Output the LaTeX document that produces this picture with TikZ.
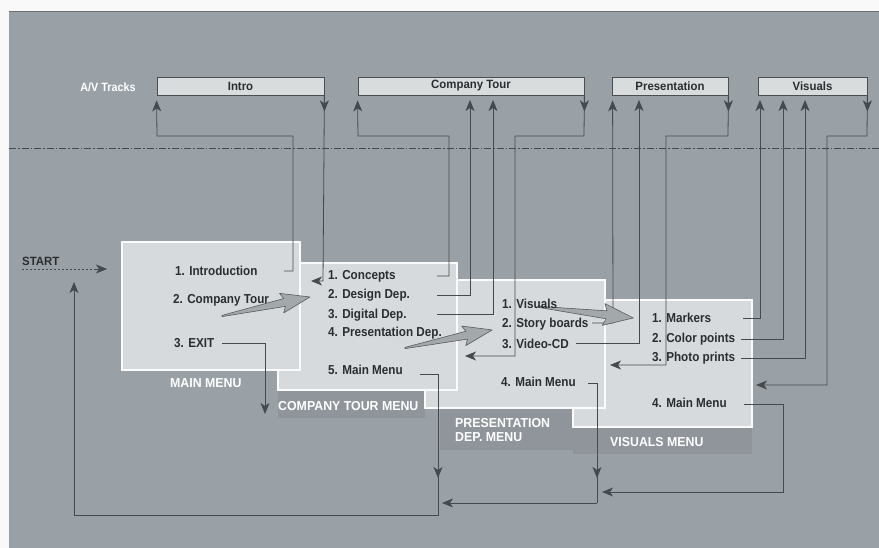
\documentclass[tikz,border=0pt]{standalone}
\usepackage{fontspec}
\setmainfont{Liberation Sans}
\newfontfamily\cond{Liberation Sans}[FakeStretch=0.9]
\newfontfamily\condw{Liberation Sans}[FakeStretch=0.95]
\usetikzlibrary{arrows.meta,calc}
\definecolor{bgc}{HTML}{9AA1A6}
\definecolor{panel}{HTML}{D6DADC}
\definecolor{barc}{HTML}{D9DCDD}
\definecolor{ink}{HTML}{2B2E31}
\definecolor{wirec}{HTML}{454A4E}
\definecolor{band}{HTML}{8F959A}
\definecolor{bigc}{HTML}{A3A8AB}
\begin{document}
\begin{tikzpicture}[x=1pt,y=-1pt,
 wire/.style={draw=wirec, line width=0.8pt},
 tip/.style={wire,-{Stealth[length=11pt,width=9pt,inset=3pt]}},
 track/.style={draw=ink!85, fill=barc, line width=0.8pt, minimum height=18pt, inner sep=0pt, font=\condw\bfseries\fontsize{12}{12}\selectfont, text=ink},
 item/.style={anchor=west, inner sep=0pt, font=\cond\bfseries\fontsize{13}{13}\selectfont, text=ink},
 lab/.style={anchor=west, inner sep=0pt, font=\condw\bfseries\fontsize{13}{14}\selectfont, text=white, align=left},
 menubox/.style={draw=white!90!panel, line width=1.6pt, fill=panel},
 bigarr/.style={fill=bigc, draw=wirec!90, line width=0.6pt, line join=round}
]
\useasboundingbox (0,0) rectangle (879,548);
\fill[white!94!bgc] (0,0) rectangle (879,548);
\fill[bgc] (9,12) rectangle (879,548);
\draw[wirec!80, line width=1pt] (9,12) -- (879,12);

% tracks
\node[text=white, font=\cond\bfseries\fontsize{12}{12}\selectfont] (av) at (108,87) {A/V Tracks};
\node[track, minimum width=167pt] (intro) at (240.5,86) {Intro};
\node[track, minimum width=226pt] (ctour) at (471,86) {Company Tour};
\node[track, minimum width=116pt] (pres) at (670,86) {Presentation};
\node[track, minimum width=109pt] (vis) at (812.5,86) {Visuals};

\draw[wire, dash pattern=on 7pt off 2pt on 1.5pt off 2pt] (9,148) -- (879,148);

% label bands
\fill[band] (278,390) rectangle (425,418);
\fill[band] (440,408) rectangle (605,450);
\fill[band] (573,427) rectangle (752,454);

% menu boxes
\draw[menubox] (573,300) rectangle (752,427);
\draw[menubox] (425,280) rectangle (605,408);
\draw[menubox] (278,263) rectangle (457,390);
\draw[menubox] (122,242) rectangle (300,370);

% connectors: intro
\draw[tip] (284,271) -- (293,271) -- (293,136) -- (157,136) -- ($(intro.south west)+(0,5)$);
\draw[tip] (intro.south east) -- ++(0,16);
\draw[tip] (intro.south east) -- (323,281) -- (311,281);
% company tour
\draw[tip] (437,276) -- (449,276) -- (449,136) -- (358,136) -- ($(ctour.south west)+(0,5)$);
\draw[tip] (437,295) -- (470,295) -- (470,100);
\draw[tip] (437,314) -- (493,314) -- (493,100);
\draw[tip] (ctour.south east) -- ++(0,16);
\draw[tip] (ctour.south east) -- (584,136) -- (515,136) -- (515,356) -- (465,356);
% presentation
\draw[tip] (592,323) -- (613,323) -- ($(pres.south west)+(1,5)$);
\draw[tip] (576,343) -- (639,343) -- (639,100);
\draw[tip] (pres.south east) -- ++(0,16);
\draw[tip] (pres.south east) -- (728,136) -- (666,136) -- (666,365) -- (610,365);
% visuals
\draw[tip] (743,318) -- (760,318) -- (760,100);
\draw[tip] (741,339) -- (783,339) -- (783,100);
\draw[tip] (741,358) -- (805,358) -- (805,100);
\draw[tip] (vis.south east) -- ++(0,16);
\draw[tip] (vis.south east) -- (867,136) -- (827,136) -- (827,385) -- (756,385);
% main menu returns
\draw[wire] (420,374) -- (438,374) -- (438,515) -- (74,515);
\draw[tip] (74,515) -- (74,282);
\draw[tip] (438,460) -- (438,478);
\draw[wire] (588,383) -- (597,383) -- (597,503);
\draw[tip] (597,503) -- (442,503);
\draw[tip] (597,460) -- (597,478);
\draw[tip] (744,404) -- (783,404) -- (783,492) -- (602,492);
% exit and start
\draw[tip] (222,343) -- (265,343) -- (265,414);
\draw[wire, dash pattern=on 2pt off 2pt] (22,269) -- (96,269);
\draw[tip] (94,269) -- (107,269);

% big arrows
\begin{scope}[shift={(222,316)}, rotate=12.2]
\draw[bigarr] (0,-0.6) -- (64,-4) -- (61,-10) -- (90,0) -- (61,10) -- (64,4) -- (0,0.6) -- cycle;
\end{scope}
\begin{scope}[shift={(405,348)}, rotate=11.7]
\draw[bigarr] (0,-0.6) -- (63,-4) -- (60,-10) -- (89,0) -- (60,10) -- (63,4) -- (0,0.6) -- cycle;
\end{scope}
\begin{scope}[shift={(540,307)}, rotate=-6.7]
\draw[bigarr] (0,-0.6) -- (67,-4) -- (64,-11) -- (94,0) -- (64,11) -- (67,4) -- (0,0.6) -- cycle;
\end{scope}

% texts
\node[anchor=west, inner sep=0pt, font=\condw\bfseries\fontsize{12}{12}\selectfont, text=ink] (start) at (22,261) {START};
\node[item] (i1) at (175,271) {1. Introduction};
\node[item] (i2) at (173,300) {2. Company Tour};
\node[item] (i3) at (174,343) {3. EXIT};
\node[item] (c1) at (328,276) {1. Concepts};
\node[item] (c2) at (328,295) {2. Design Dep.};
\node[item] (c3) at (328,315) {3. Digital Dep.};
\node[item] (c4) at (328,333) {4. Presentation Dep.};
\node[item] (c5) at (328,370) {5. Main Menu};
\node[item] (p1) at (502,304) {1. Visuals};
\node[item] (p2) at (502,324) {2. Story boards};
\node[item] (p3) at (502,344) {3. Video-CD};
\node[item] (p4) at (501,382) {4. Main Menu};
\node[item] (v1) at (652,318) {1. Markers};
\node[item] (v2) at (652,339) {2. Color points};
\node[item] (v3) at (652,358) {3. Photo prints};
\node[item] (v4) at (652,403) {4. Main Menu};
\node[lab] (lmain) at (170,383) {MAIN MENU};
\node[lab] (lct) at (278,406) {COMPANY TOUR MENU};
\node[lab] (lpr) at (455,430) {PRESENTATION\\DEP. MENU};
\node[lab] (lvi) at (610,442) {VISUALS MENU};
\end{tikzpicture}
\end{document}
